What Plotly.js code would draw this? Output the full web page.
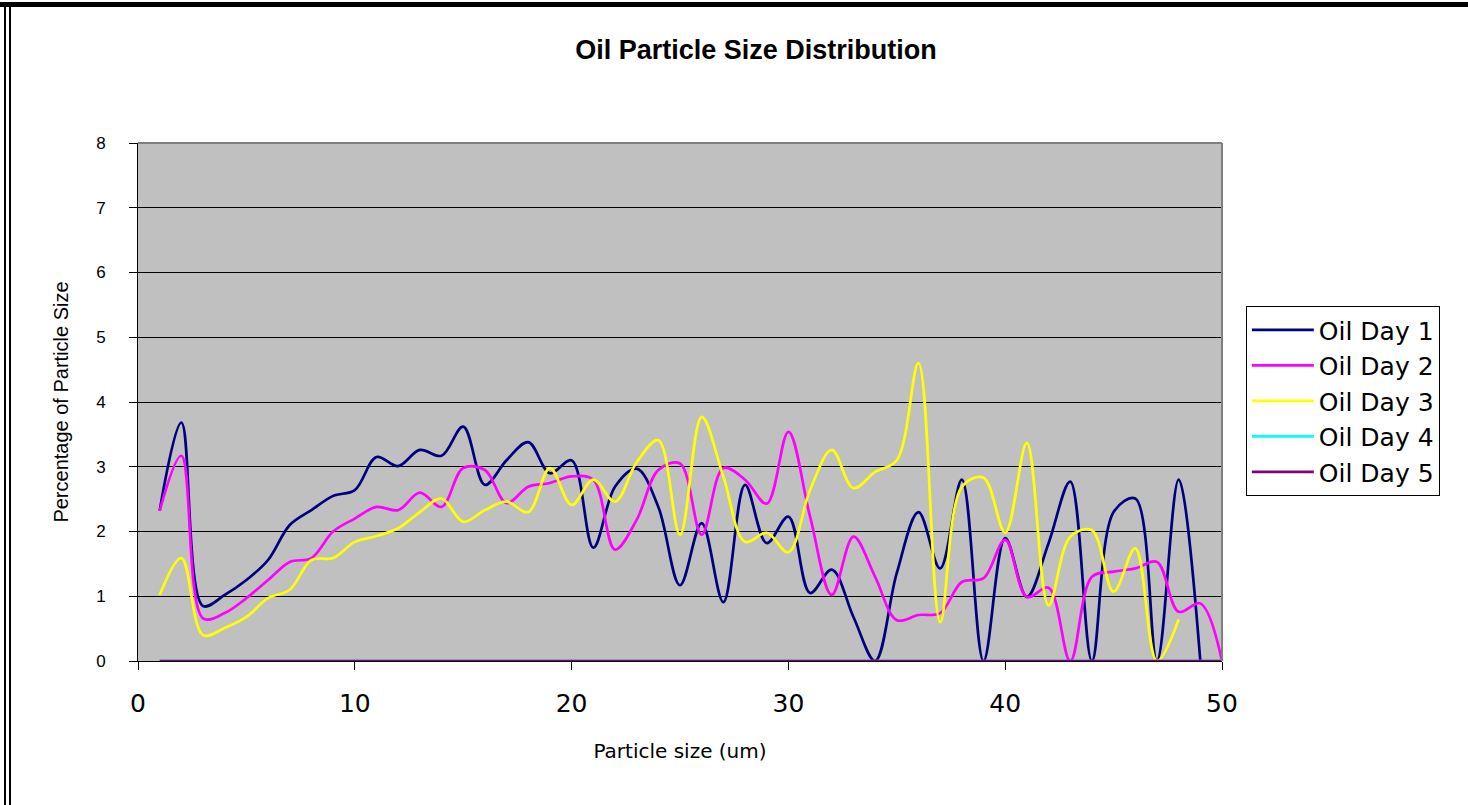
<!DOCTYPE html>
<html>
<head>
<meta charset="utf-8">
<script src="https://cdn.plot.ly/plotly-3.0.1.min.js"></script>
<style>
  html, body { margin: 0; padding: 0; background: #ffffff; }
  #frame { position: relative; width: 1468px; height: 805px; overflow: hidden; }
  #chart { position: absolute; left: 0; top: 0; width: 1468px; height: 805px; }
  .edge-top { position: absolute; left: 0; top: 2px; width: 1468px; height: 5px; background: #000; }
  .edge-left { position: absolute; left: 4px; top: 2px; width: 7px; height: 803px;
               border-left: 2px solid #000; border-right: 2px solid #000; box-sizing: border-box; }
</style>
</head>
<body>
<div id="frame">
  <div id="chart"></div>
  <div class="edge-top"></div>
  <div class="edge-left"></div>
</div>
<script>
// Particle size bins (um)
const sizes = [1,2,3,4,5,6,7,8,9,10,11,12,13,14,15,16,17,18,19,20,
               21,22,23,24,25,26,27,28,29,30,31,32,33,34,35,36,37,38,39,40,
               41,42,43,44,45,46,47,48,49,50];

// Percentage of particles in each size bin, per day
const oilDay1 = [2.32,3.68,0.85,1.02,1.25,1.56,2.10,2.33,2.55,2.64,
                 3.15,3.01,3.26,3.17,3.62,2.72,3.10,3.38,2.90,3.10,
                 1.75,2.69,2.97,2.38,1.17,2.13,0.91,2.72,1.82,2.23,
                 1.05,1.41,0.68,0.00,1.36,2.30,1.43,2.80,0.00,1.90,
                 0.99,1.82,2.77,0.00,2.30,2.51,0.00,2.80,0.00];
const oilDay2 = [2.32,3.17,0.66,0.74,0.97,1.25,1.53,1.59,2.00,2.20,
                 2.38,2.33,2.60,2.38,2.98,2.95,2.44,2.69,2.75,2.85,
                 2.80,1.72,2.18,2.95,3.05,1.95,2.98,2.80,2.43,3.54,
                 2.23,1.02,1.92,1.30,0.63,0.71,0.74,1.22,1.28,1.87,
                 0.99,1.13,0.00,1.30,1.38,1.43,1.53,0.76,0.89,0.00];
const oilDay3 = [1.02,1.59,0.40,0.51,0.68,0.97,1.10,1.56,1.59,1.84,
                 1.93,2.05,2.30,2.51,2.15,2.33,2.46,2.30,2.98,2.41,
                 2.80,2.46,3.07,3.41,1.95,3.77,2.85,1.84,1.98,1.68,
                 2.64,3.26,2.67,2.92,3.10,4.60,0.60,2.69,2.83,1.98,
                 3.37,0.86,1.92,2.02,1.07,1.74,0.00,0.64];
const oilDay4 = [0,0,0,0,0,0,0,0,0,0,0,0,0,0,0,0,0,0,0,0,0,0,0,0,0,
                 0,0,0,0,0,0,0,0,0,0,0,0,0,0,0,0,0,0,0,0,0,0,0,0,0];
const oilDay5 = [0,0,0,0,0,0,0,0,0,0,0,0,0,0,0,0,0,0,0,0,0,0,0,0,0,
                 0,0,0,0,0,0,0,0,0,0,0,0,0,0,0,0,0,0,0,0,0,0,0,0,0];

const seriesNames = ['Oil Day 1', 'Oil Day 2', 'Oil Day 3', 'Oil Day 4', 'Oil Day 5'];
const seriesValues = [oilDay1, oilDay2, oilDay3, oilDay4, oilDay5];
const seriesColors = ['#000080', '#FF00FF', '#FFFF00', '#00FFFF', '#800080'];

const traces = seriesValues.map((vals, i) => ({
  type: 'scatter',
  mode: 'lines',
  name: seriesNames[i],
  x: sizes.slice(0, vals.length),
  y: vals,
  line: { color: seriesColors[i], width: 2.7, shape: 'spline', smoothing: 1 }
}));

const layout = {
  width: 1468,
  height: 805,
  margin: { l: 138, r: 246, t: 143, b: 144 },
  paper_bgcolor: '#ffffff',
  plot_bgcolor: '#C0C0C0',
  showlegend: true,
  title: {
    text: '<b>Oil Particle Size Distribution</b>',
    font: { family: 'Liberation Sans, Arial, sans-serif', size: 27, color: '#000' },
    x: 0.515, xanchor: 'center',
    y: 0.938, yanchor: 'middle'
  },
  xaxis: {
    range: [0, 50],
    tickvals: [0, 10, 20, 30, 40, 50],
    ticks: 'outside', ticklen: 8, tickcolor: '#000', tickwidth: 1,
    ticklabelstandoff: 12,
    showgrid: false, zeroline: false,
    showline: true, linecolor: '#000', linewidth: 1,
    tickfont: { family: 'DejaVu Sans, Verdana, sans-serif', size: 25, color: '#000' },
    title: {
      text: 'Particle size (um)',
      font: { family: 'DejaVu Sans, Verdana, sans-serif', size: 20, color: '#000' },
      standoff: 26
    }
  },
  yaxis: {
    range: [0, 8],
    dtick: 1,
    ticks: 'outside', ticklen: 8, tickcolor: '#000', tickwidth: 1,
    ticklabelstandoff: 20,
    showgrid: true, gridcolor: '#000', gridwidth: 1,
    zeroline: false,
    showline: true, linecolor: '#000', linewidth: 1,
    tickfont: { family: 'Liberation Sans, Arial, sans-serif', size: 17, color: '#000' },
    title: {
      text: 'Percentage of Particle Size',
      font: { family: 'Liberation Sans Narrow, Liberation Sans, Arial, sans-serif', size: 20, color: '#000' },
      standoff: 22
    }
  },
  legend: {
    x: 1.022, xanchor: 'left',
    y: 0.685, yanchor: 'top',
    bgcolor: '#ffffff',
    bordercolor: '#000', borderwidth: 1,
    font: { family: 'DejaVu Sans, Verdana, sans-serif', size: 25, color: '#000' },
    itemwidth: 62,
    tracegroupgap: 0
  },
  shapes: [
    // grey frame on the top and right of the plotting area
    { type: 'line', xref: 'paper', yref: 'paper', x0: 0, x1: 1, y0: 1, y1: 1,
      line: { color: '#808080', width: 2 } },
    { type: 'line', xref: 'paper', yref: 'paper', x0: 1, x1: 1, y0: 0, y1: 1,
      line: { color: '#808080', width: 2 } }
  ]
};

Plotly.newPlot('chart', traces, layout, { displayModeBar: false, staticPlot: true });
</script>
</body>
</html>
